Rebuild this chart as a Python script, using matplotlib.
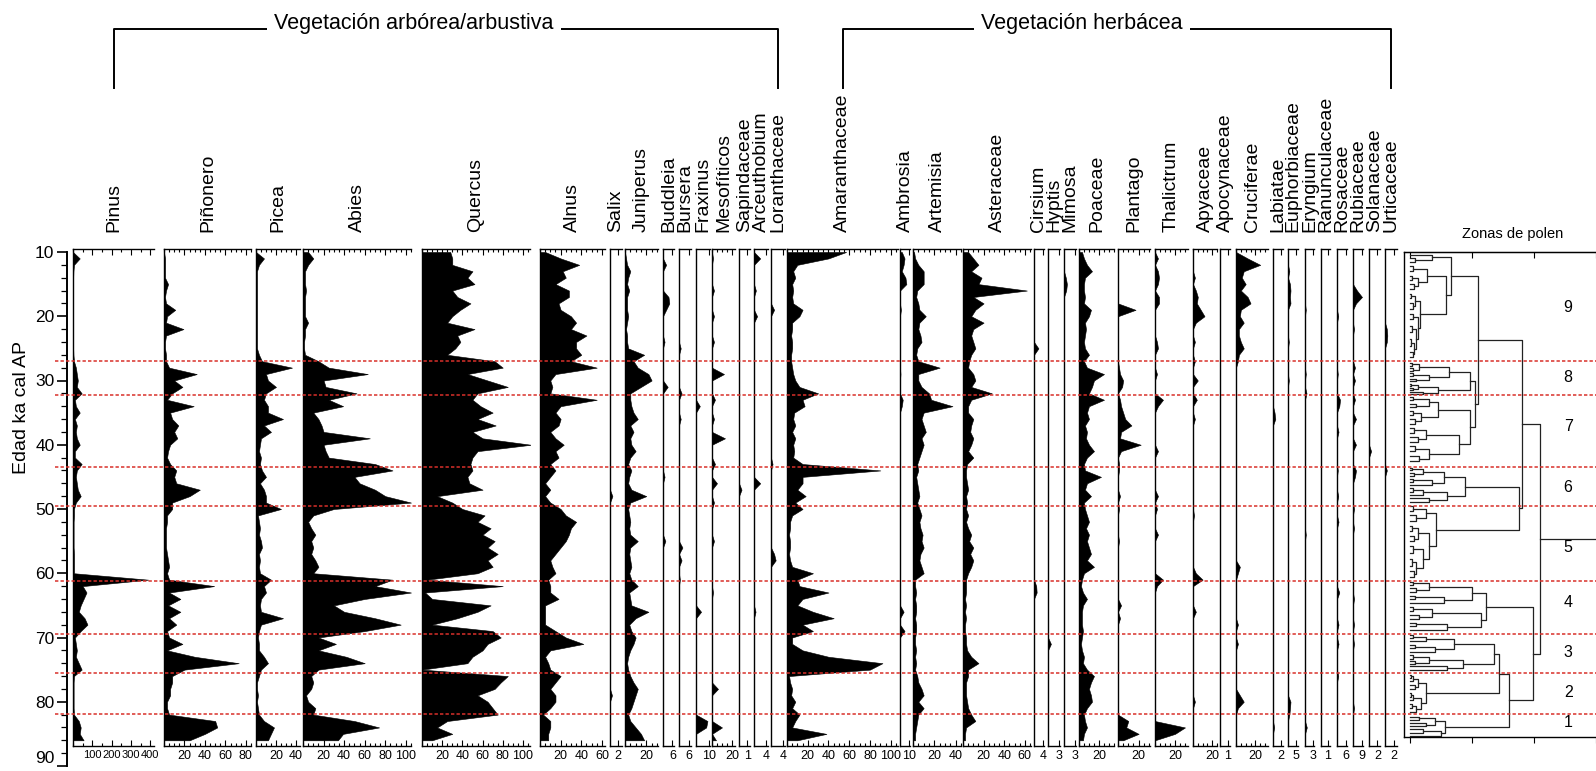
import numpy as np
import matplotlib
matplotlib.use('Agg')
import matplotlib.pyplot as plt
from matplotlib.lines import Line2D
from matplotlib.ticker import MultipleLocator, FixedLocator

plt.rcParams['font.family'] = ['Liberation Sans', 'DejaVu Sans']

# ── DATA ───────────────────────────────────────
AGES = np.arange(10, 87)          # ka cal AP, one value per ka

PINUS = [0, 35, 5, 2, 1, 1, 1, 1, 1, 1,
         1, 1, 1, 1, 1, 1, 2, 5, 15, 20,
         25, 20, 45, 10, 15, 35, 10, 20, 15, 20,
         35, 10, 10, 45, 20, 15, 20, 25, 40, 15,
         5, 5, 3, 3, 3, 3, 3, 5, 5, 5,
         5, 390, 50, 70, 55, 40, 30, 60, 75, 40,
         10, 15, 20, 15, 30, 45, 5, 3, 3, 3,
         3, 3, 5, 30, 40, 35, 55]
PINONERO = [0, 1, 1, 1, 1, 4, 2, 1, 2, 11,
            3, 2, 19, 2, 1, 1, 2, 2, 5, 32,
            10, 18, 8, 3, 29, 6, 8, 14, 10, 13,
            6, 4, 3, 6, 12, 10, 12, 35, 25, 8,
            8, 3, 3, 2, 2, 2, 2, 3, 4, 5,
            3, 5, 49, 5, 16, 4, 16, 5, 12, 3,
            5, 18, 3, 30, 73, 20, 8, 8, 6, 6,
            3, 3, 5, 50, 52, 40, 25]
PICEA = [0, 8, 3, 1, 1, 1, 1, 1, 1, 1,
         1, 1, 1, 1, 1, 1, 3, 6, 36, 10,
         12, 20, 10, 8, 12, 12, 27, 8, 15, 5,
         4, 3, 5, 4, 6, 10, 4, 8, 10, 10,
         25, 2, 3, 4, 3, 5, 6, 3, 4, 3,
         4, 15, 8, 10, 5, 4, 5, 27, 5, 3,
         2, 3, 3, 8, 12, 5, 3, 1, 1, 2,
         1, 2, 3, 8, 18, 15, 12]
ABIES = [5, 10, 5, 2, 2, 2, 3, 2, 2, 2,
         2, 5, 2, 2, 1, 1, 2, 15, 25, 63,
         20, 22, 52, 25, 39, 10, 15, 18, 20, 65,
         20, 22, 25, 70, 87, 50, 55, 70, 80, 105,
         30, 10, 5, 8, 12, 8, 10, 8, 12, 15,
         10, 87, 70, 105, 60, 30, 40, 70, 95, 60,
         15, 32, 15, 42, 60, 15, 8, 10, 8, 3,
         5, 12, 10, 50, 74, 39, 34]
QUERCUS = [28, 30, 30, 50, 45, 52, 30, 35, 48, 38,
           30, 25, 52, 35, 38, 33, 25, 72, 80, 45,
           65, 85, 55, 50, 58, 70, 55, 73, 50, 60,
           108, 55, 50, 48, 50, 45, 47, 60, 15, 30,
           40, 62, 55, 68, 60, 72, 65, 75, 65, 70,
           55, 5, 80, 3, 10, 68, 55, 35, 10, 70,
           78, 65, 60, 50, 45, 0, 85, 78, 72, 55,
           65, 70, 75, 25, 15, 30, 10]
ALNUS = [5, 20, 38, 22, 25, 15, 28, 28, 18, 20,
         30, 35, 30, 45, 35, 35, 40, 30, 55, 15,
         10, 12, 10, 55, 20, 15, 20, 18, 10, 15,
         23, 15, 18, 10, 15, 10, 5, 10, 5, 10,
         20, 25, 35, 30, 28, 25, 20, 15, 10, 12,
         15, 8, 10, 10, 18, 5, 5, 5, 5, 15,
         25, 42, 10, 5, 8, 10, 20, 15, 10, 15,
         15, 10, 3, 10, 10, 8, 8]
JUNIPERUS = [0, 1, 2, 5, 3, 2, 4, 2, 2, 2,
             3, 2, 1, 2, 2, 3, 18, 8, 12, 22,
             25, 15, 5, 5, 6, 8, 12, 5, 8, 5,
             6, 10, 5, 3, 6, 4, 3, 6, 20, 5,
             3, 4, 5, 4, 5, 12, 5, 4, 5, 6,
             4, 6, 12, 4, 5, 6, 22, 10, 4, 6,
             10, 8, 5, 3, 2, 3, 5, 8, 12, 10,
             8, 6, 3, 5, 10, 15, 18]
AMARANTHACEAE = [57, 40, 10, 6, 8, 5, 6, 5, 6, 15,
                 12, 5, 5, 4, 5, 5, 4, 4, 5, 6,
                 8, 12, 30, 15, 17, 7, 6, 8, 5, 8,
                 6, 7, 6, 15, 90, 15, 15, 10, 18, 8,
                 15, 5, 3, 3, 2, 3, 3, 2, 3, 5,
                 25, 10, 12, 40, 15, 10, 25, 45, 15, 25,
                 5, 5, 15, 40, 92, 80, 2, 3, 5, 4,
                 8, 5, 12, 8, 5, 38, 10]
ARTEMISIA = [1, 2, 5, 10, 10, 10, 4, 3, 5, 6,
             12, 6, 5, 7, 8, 4, 3, 5, 25, 5,
             5, 8, 15, 17, 37, 10, 8, 10, 12, 8,
             10, 8, 6, 4, 5, 3, 4, 5, 6, 4,
             6, 8, 6, 7, 9, 8, 10, 7, 6, 8,
             10, 2, 2, 3, 2, 3, 3, 2, 3, 3,
             2, 2, 3, 2, 3, 2, 4, 5, 8, 10,
             5, 10, 5, 4, 3, 2, 2]
ASTERACEAE = [5, 10, 15, 8, 18, 15, 62, 10, 20, 12,
              8, 20, 10, 8, 10, 12, 8, 6, 5, 10,
              12, 8, 28, 8, 5, 5, 10, 8, 7, 10,
              8, 5, 10, 4, 3, 3, 4, 5, 3, 4,
              3, 5, 3, 5, 8, 6, 10, 7, 10, 8,
              5, 3, 3, 3, 2, 3, 2, 3, 2, 2,
              3, 3, 4, 8, 15, 5, 5, 3, 3, 3,
              4, 5, 8, 12, 3, 2, 2]
POACEAE = [3, 5, 8, 13, 6, 5, 5, 6, 5, 12,
           10, 6, 7, 6, 5, 6, 10, 5, 8, 25,
           15, 13, 10, 25, 10, 8, 10, 6, 8, 7,
           10, 15, 8, 5, 6, 22, 8, 6, 12, 5,
           6, 8, 10, 7, 10, 8, 10, 12, 8, 15,
           5, 3, 2, 4, 8, 4, 3, 3, 3, 4,
           3, 2, 3, 5, 4, 8, 15, 12, 10, 12,
           13, 8, 5, 6, 8, 5, 4]

# minor taxa: {age ka: %}, zero elsewhere
SALIX = {48: 0.6, 79: 0.5}
BUDDLEIA = {12: 2, 17: 3.5, 18: 4, 19: 2, 24: 1, 31: 3, 45: 1, 55: 1.5}
BURSERA = {25: 1, 32: 1.5, 36: 1, 56: 2, 58: 1.5, 61: 0.5}
FRAXINUS = {34: 3, 66: 4, 83: 9, 84: 8}
MESOFITICOS = {11: 1, 16: 2, 20: 2, 24: 2, 29: 12, 33: 3, 36: 2, 39: 13, 43: 3,
               46: 5, 49: 2, 55: 2, 63: 1, 78: 6, 84: 10, 86: 4}
SAPINDACEAE = {47: 0.3}
ARCEUTHOBIUM = {11: 2, 16: 0.6, 20: 1, 46: 2, 66: 0.5}
LORANTHACEAE = {19: 1, 43: 0.5, 57: 1, 58: 1.5}
AMBROSIA = {10: 2, 11: 5, 12: 4, 13: 2, 14: 6, 15: 7, 19: 1, 29: 0.5, 33: 3, 34: 2,
            66: 4, 69: 5}
CIRSIUM = {25: 2, 62: 1, 63: 1.2}
HYPTIS = {71: 0.8}
MIMOSA = {14: 0.5, 15: 0.8, 16: 0.6}
PLANTAGO = {19: 17, 28: 1, 29: 2, 30: 5, 31: 4, 33: 2, 34: 3, 35: 5, 36: 7, 37: 13,
            38: 3, 39: 2, 40: 22, 41: 3, 43: 1, 44: 1, 48: 2, 50: 1, 55: 1, 65: 3,
            67: 2, 83: 10, 84: 8, 85: 20, 86: 5}
THALICTRUM = {11: 3, 13: 3, 14: 4, 15: 3, 17: 4, 18: 4, 24: 2, 25: 3, 29: 2, 33: 8,
              34: 3, 41: 3, 48: 3, 50: 2, 54: 3, 61: 8, 62: 2, 84: 30, 85: 20}
APYACEAE = {14: 2, 16: 3, 17: 5, 18: 4, 19: 8, 20: 12, 21: 3, 24: 2, 27: 2, 30: 5,
            33: 4, 36: 2, 51: 1, 60: 3, 61: 10, 66: 3, 80: 2}
APOCYNACEAE = {}
CRUCIFERAE = {11: 12, 12: 25, 13: 8, 14: 6, 15: 10, 16: 5, 17: 12, 18: 15, 19: 5,
              20: 4, 21: 8, 22: 3, 23: 3, 24: 5, 25: 8, 26: 3, 27: 2, 59: 4, 60: 2,
              68: 2, 71: 2, 79: 4, 80: 8, 81: 2}
LABIATAE = {35: 0.4, 36: 0.6, 84: 0.3}
EUPHORBIACEAE = {13: 0.8, 15: 1.2, 16: 1.5, 17: 1.2, 18: 1.5, 24: 0.5, 30: 0.5,
                 80: 1.5, 81: 1.2, 82: 0.8}
ERYNGIUM = {19: 0.3, 29: 0.3, 32: 0.6, 54: 0.3, 84: 0.7}
RANUNCULACEAE = {}
ROSACEAE = {20: 0.8, 29: 0.5, 33: 2, 34: 1.5, 38: 1, 44: 0.5, 48: 0.8, 52: 1,
            63: 1.5, 68: 1, 71: 1, 76: 0.8}
RUBIACEAE = {16: 4, 17: 9, 18: 3, 22: 1, 28: 2, 30: 2, 33: 2, 36: 3, 40: 3, 44: 3,
             45: 2, 50: 1, 53: 1, 64: 1, 68: 1, 71: 1, 81: 1}
SOLANACEAE = {41: 0.5}
URTICACEAE = {22: 0.4, 23: 0.5, 24: 0.4, 44: 0.4}

TAXA = {
    'Pinus': PINUS, 'Piñonero': PINONERO, 'Picea': PICEA, 'Abies': ABIES,
    'Quercus': QUERCUS, 'Alnus': ALNUS, 'Salix': SALIX, 'Juniperus': JUNIPERUS,
    'Buddleia': BUDDLEIA, 'Bursera': BURSERA, 'Fraxinus': FRAXINUS,
    'Mesofíticos': MESOFITICOS, 'Sapindaceae': SAPINDACEAE,
    'Arceuthobium': ARCEUTHOBIUM, 'Loranthaceae': LORANTHACEAE,
    'Amaranthaceae': AMARANTHACEAE, 'Ambrosia': AMBROSIA, 'Artemisia': ARTEMISIA,
    'Asteraceae': ASTERACEAE, 'Cirsium': CIRSIUM, 'Hyptis': HYPTIS, 'Mimosa': MIMOSA,
    'Poaceae': POACEAE, 'Plantago': PLANTAGO, 'Thalictrum': THALICTRUM,
    'Apyaceae': APYACEAE, 'Apocynaceae': APOCYNACEAE, 'Cruciferae': CRUCIFERAE,
    'Labiatae': LABIATAE, 'Euphorbiaceae': EUPHORBIACEAE, 'Eryngium': ERYNGIUM,
    'Ranunculaceae': RANUNCULACEAE, 'Rosaceae': ROSACEAE, 'Rubiaceae': RUBIACEAE,
    'Solanaceae': SOLANACEAE, 'Urticaceae': URTICACEAE,
}

AGE_TICKS = [10, 20, 30, 40, 50, 60, 70, 80, 90]
ZONE_BOUNDS = [27.0, 32.3, 43.4, 49.6, 61.2, 69.4, 75.6, 81.9]
ZONE_NAMES = ['1', '2', '3', '4', '5', '6', '7', '8', '9']
ZONE_NAME_AGES = [83.3, 78.5, 72.4, 64.6, 56.0, 46.6, 37.2, 29.6, 18.6]

# cluster tree: leaf = sample age, node = (distance, left, right)
Z9 = (0.66, (0.35, 10.4, (0.08, 10.9, 11.6)),
      (0.58, (0.27, (0.05, 12.2, 13.0), (0.12, (0.03, 13.8, 14.4), (0.06, 15.0, 15.7))),
             (0.16, (0.08, (0.02, 16.5, 17.2), (0.05, 18.0, 18.8)),
                    (0.12, (0.04, 19.6, 20.5),
                           (0.1, (0.03, 21.5, 22.5), (0.06, (0.02, 23.6, 24.6), (0.04, 25.5, 26.4)))))))
Z8 = (0.96, (0.62, (0.15, (0.03, 27.3, 27.7), (0.05, 28.1, 28.5)),
             (0.3, (0.04, 28.9, 29.3), (0.1, 29.7, 30.1))),
      (0.45, (0.12, (0.02, 30.5, 30.9), (0.04, 31.2, 31.5)), (0.2, 31.8, 32.1)))
Z7 = (0.96, (0.45, (0.3, (0.05, 32.6, 33.1), (0.1, 33.6, 34.2)),
             (0.18, (0.04, 34.8, 35.4), (0.07, 36.0, 36.7))),
      (0.78, (0.25, (0.06, 37.4, 38.1), (0.12, 38.8, 39.5)),
             (0.3, (0.08, 40.2, 41.0), (0.15, 41.8, 42.6))))
Z6 = (0.89, (0.55, (0.2, (0.03, 43.6, 44.0), (0.06, 44.4, 44.8)), (0.35, (0.05, 45.3, 45.8), 46.3)),
      (0.6, (0.2, (0.04, 46.8, 47.3), 47.8), (0.3, 48.3, 48.9)))
Z5 = (0.41, (0.25, (0.05, 49.6, 50.3), (0.1, 51.0, 51.8)),
      (0.3, (0.12, (0.03, 52.6, 53.4), (0.06, 54.2, 55.0)),
            (0.2, (0.05, 55.8, 56.8), (0.1, (0.03, 57.8, 58.8), (0.06, 59.6, 60.6)))))
Z4 = (1.22, (1.0, (0.3, (0.05, 61.3, 61.8), (0.1, 62.3, 62.9)), (0.55, (0.08, 63.5, 64.0), 64.6)),
      (1.15, (0.35, (0.05, 65.3, 65.9), (0.15, 66.5, 67.1)), (0.6, (0.1, 67.7, 68.2), 68.8)))
Z3 = (1.35, (0.7, (0.25, (0.05, 69.6, 70.1), 70.6), (0.4, (0.08, 71.2, 71.7), 72.2)),
      (0.85, (0.3, (0.04, 72.8, 73.3), (0.07, 73.7, 74.1)), (0.6, 74.5, 75.0)))
Z2 = (0.25, (0.12, (0.04, (0.02, 75.8, 76.3), 76.8), (0.08, 77.4, 78.0)),
      (0.18, (0.05, (0.02, 78.6, 79.2), 79.8), (0.1, (0.03, 80.4, 81.0), 81.6)))
Z1 = (0.57, (0.4, (0.15, 82.3, 82.8), (0.25, 83.3, 83.8)), (0.5, (0.2, 84.3, 84.8), 85.3))
TREE = (2.10, (1.80, (1.09, Z9, (1.04, Z8, Z7)), (1.75, Z6, Z5)),
        (1.99, Z4, (1.59, (1.43, Z3, Z2), Z1)))

# ── LAYOUT (pixels) ────────────────────────────
W, H = 1596, 771
Y10, PX_KA = 252, 6.425           # age 10 at y=252, px per ka
PANEL_TOP, PANEL_BOT, LABEL_BASE = 249, 746, 232

# label, left, right, x max, tick labels, minor step
PANELS = [
    ('Pinus', 73, 154, 420, [100, 200, 300, 400], 50),
    ('Piñonero', 164, 251, 85, [20, 40, 60, 80], 5),
    ('Picea', 256, 300, 44, [20, 40], 5),
    ('Abies', 303, 411, 105, [20, 40, 60, 80, 100], 5),
    ('Quercus', 422, 530, 107, [20, 40, 60, 80, 100], 5),
    ('Alnus', 540, 605, 63, [20, 40, 60], 5),
    ('Salix', 610, 622, 3, [2], None),
    ('Juniperus', 625, 658, 31, [20], 5),
    ('Buddleia', 663, 674, 7, [6], None),
    ('Bursera', 679, 691, 7, [6], None),
    ('Fraxinus', 696, 710, 11, [10], None),
    ('Mesofíticos', 712, 735, 23, [20], 5),
    ('Sapindaceae', 739, 750, 1.3, [1], None),
    ('Arceuthobium', 754, 768, 4.5, [4], None),
    ('Loranthaceae', 771, 785, 4.5, [4], None),
    ('Amaranthaceae', 787, 898, 107, [20, 40, 60, 80, 100], 5),
    ('Ambrosia', 900, 910, 11, [10], None),
    ('Artemisia', 913, 961, 45, [20, 40], 5),
    ('Asteraceae', 963, 1031, 66, [20, 40, 60], 5),
    ('Cirsium', 1034, 1044, 4.5, [4], None),
    ('Hyptis', 1048, 1060, 3.3, [3], None),
    ('Mimosa', 1064, 1076, 3.3, [3], None),
    ('Poaceae', 1079, 1114, 35, [20], 5),
    ('Plantago', 1118, 1150, 31, [20], 5),
    ('Thalictrum', 1155, 1188, 33, [20], 5),
    ('Apyaceae', 1193, 1217, 25, [20], 5),
    ('Apocynaceae', 1220, 1230, 1.3, [1], None),
    ('Cruciferae', 1236, 1268, 33, [20], 5),
    ('Labiatae', 1273, 1283, 2.6, [2], None),
    ('Euphorbiaceae', 1288, 1298, 6, [5], None),
    ('Eryngium', 1305, 1314, 3.5, [3], None),
    ('Ranunculaceae', 1321, 1330, 1.3, [1], None),
    ('Rosaceae', 1337, 1347, 6.5, [6], None),
    ('Rubiaceae', 1353, 1363, 10, [9], None),
    ('Solanaceae', 1369, 1380, 2.6, [2], None),
    ('Urticaceae', 1385, 1397, 2.6, [2], None),
]


def box(x0, x1, y0, y1):
    return [x0 / W, 1 - y1 / H, (x1 - x0) / W, (y1 - y0) / H]


def age_at(y):
    return 10 + (y - Y10) / PX_KA


def series(d):
    if isinstance(d, dict):
        v = np.zeros(len(AGES))
        for a, x in d.items():
            v[a - AGES[0]] = x
        return v
    return np.asarray(d, float)


fig = plt.figure(figsize=(W / 100, H / 100), dpi=100, facecolor='white')

# ── POLLEN PANELS ──────────────────────────────
centers = {}
for label, x0, x1, xmax, ticks, step in PANELS:
    ax = fig.add_axes(box(x0, x1, PANEL_TOP, PANEL_BOT))
    ax.patch.set_alpha(0)
    ax.fill_betweenx(AGES, 0, series(TAXA[label]), facecolor='black',
                     edgecolor='black', lw=0.4)
    ax.set_xlim(0, xmax)
    ax.set_ylim(age_at(PANEL_BOT), age_at(PANEL_TOP))
    ax.spines['right'].set_visible(False)
    for s in ('left', 'top', 'bottom'):
        ax.spines[s].set_linewidth(1.0)
    ax.set_yticks([])
    ax.set_xticks(ticks)
    ax.set_xticklabels([str(t) for t in ticks])
    if step:
        ax.xaxis.set_minor_locator(MultipleLocator(step))
    ax.tick_params(axis='x', which='both', direction='in', top=True, bottom=True,
                   labelsize=8 if xmax > 200 else 9, pad=3, width=0.8)
    ax.tick_params(axis='x', which='major', length=4)
    ax.tick_params(axis='x', which='minor', length=2.2)
    cx = (x0 + x1) / 2
    centers[label] = cx
    fig.text(cx / W, 1 - LABEL_BASE / H, label, rotation=90, ha='center',
             va='bottom', fontsize=14)

# ── AGE AXIS ───────────────────────────────────
ax_age = fig.add_axes(box(67, 68, Y10, Y10 + 80 * PX_KA))
ax_age.patch.set_alpha(0)
ax_age.set_ylim(90, 10)
for s in ('right', 'top', 'bottom'):
    ax_age.spines[s].set_visible(False)
ax_age.spines['left'].set_linewidth(1.4)
ax_age.set_xticks([])
ax_age.yaxis.set_major_locator(FixedLocator(AGE_TICKS))
ax_age.yaxis.set_minor_locator(MultipleLocator(2))
ax_age.tick_params(axis='y', which='major', length=7, width=1.2, labelsize=12.5, pad=2)
ax_age.tick_params(axis='y', which='minor', length=4, width=0.9)
ax_age.yaxis.get_major_ticks()[-1].label1.set_va('bottom')   # keep "90" inside
fig.text(22 / W, 1 - 407 / H, 'Edad ka cal AP', rotation=90, ha='center',
         va='center', fontsize=14)

# ── GROUP HEADERS ──────────────────────────────
groups = [('Vegetación arbórea/arbustiva', 'Pinus', 'Loranthaceae', 414),
          ('Vegetación herbácea', 'Amaranthaceae', 'Urticaceae', 1082)]
for text, first, last, tx in groups:
    xa, xb = centers[first] / W, centers[last] / W
    ytop, ybot = 1 - 28.5 / H, 1 - 88 / H
    fig.add_artist(Line2D([xa, xa, xb, xb], [ybot, ytop, ytop, ybot],
                          color='black', lw=1.4, transform=fig.transFigure))
    fig.text(tx / W, 1 - 24 / H, text, ha='center', va='center', fontsize=15.5,
             bbox=dict(facecolor='white', edgecolor='none', pad=5))

# ── DENDROGRAM ─────────────────────────────────
ax_d = fig.add_axes(box(1404, 1596, Y10, 737))
ax_d.patch.set_alpha(0)
ax_d.set_xlim(-0.1, 3.0)
ax_d.set_ylim(age_at(737), 10)
ax_d.spines['right'].set_visible(False)
for s in ('left', 'top', 'bottom'):
    ax_d.spines[s].set_linewidth(1.0)
ax_d.set_yticks([])
ax_d.set_xticks([0, 1, 2, 3])
ax_d.tick_params(axis='x', direction='out', length=4, labelbottom=False)
top_ax = ax_d.secondary_xaxis('top')
top_ax.set_xticks([0, 1, 2, 3])
top_ax.tick_params(direction='in', length=4, labeltop=False)


def draw(node):
    if not isinstance(node, tuple):
        return node, 0.0
    h, left, right = node
    yl, hl = draw(left)
    yr, hr = draw(right)
    ax_d.plot([hl, h, h, hr], [yl, yl, yr, yr], color='#222222', lw=0.9)
    return (yl + yr) / 2, h


y_root, h_root = draw(TREE)
ax_d.plot([h_root, 3.0], [y_root, y_root], color='#222222', lw=0.9, clip_on=False)
for name, a in zip(ZONE_NAMES, ZONE_NAME_AGES):
    ax_d.text(2.55, a, name, ha='center', va='center', fontsize=11.5)
fig.text(1513 / W, 1 - 234 / H, 'Zonas de polen', ha='center', va='center',
         fontsize=10.5)

# ── ZONE BOUNDARIES ────────────────────────────
ax_z = fig.add_axes(box(55, 1596, Y10, Y10 + 80 * PX_KA))
ax_z.set_xlim(0, 1)
ax_z.set_ylim(90, 10)
ax_z.axis('off')
ax_z.hlines(ZONE_BOUNDS, 0, 1, colors='#d8302a', linestyles=(0, (2.2, 1.4)), lw=1.1)

fig.savefig('out.png', dpi=100, facecolor='white')
